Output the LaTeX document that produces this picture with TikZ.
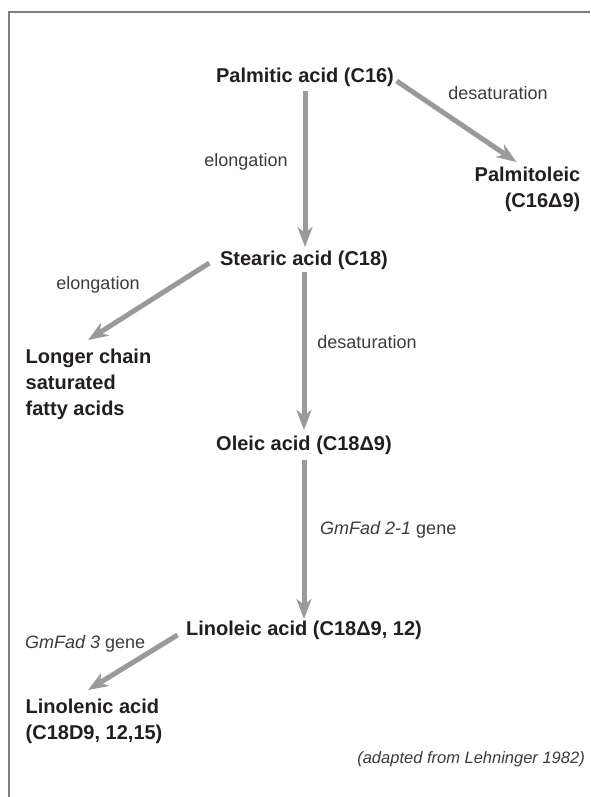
\documentclass[tikz,border=0pt]{standalone}
\usepackage{fontspec}
\setmainfont{Liberation Sans}
\usetikzlibrary{arrows.meta,calc}
\definecolor{arrowgray}{HTML}{9A9A9A}
\definecolor{framegray}{HTML}{7F7F7F}
\definecolor{txt}{HTML}{231F20}
\definecolor{lbl}{HTML}{3C3C3C}
\begin{document}
\begin{tikzpicture}[x=1pt,y=-1pt,
  acid/.style={font=\bfseries\fontsize{20}{26}\selectfont, text=txt, inner sep=1.5pt},
  lab/.style={font=\fontsize{18}{22}\selectfont, text=lbl, inner sep=0pt},
  conv/.style={draw=arrowgray, line width=5pt, -{Stealth[length=20pt,width=15pt,inset=6pt]}}]
\useasboundingbox (0,0) rectangle (590,797);
\fill[white] (0,0) rectangle (590,797);
\draw[framegray, line width=2pt] (590,12) -| (9,797);

\node[acid] (palm) at (305,77) {Palmitic acid (C16)};
\node[acid, align=right, anchor=north east] (ptol) at (582,165) {Palmitoleic\\(C16Δ9)};
\node[acid] (stear) at (304,260) {Stearic acid (C18)};
\node[acid, align=left, anchor=north west] (longer) at (24,347) {Longer chain\\saturated\\fatty acids};
\node[acid] (oleic) at (304,445) {Oleic acid (C18Δ9)};
\node[acid] (linol) at (304,630) {Linoleic acid (C18Δ9, 12)};
\node[acid, align=left, anchor=north west] (linolen) at (24,697) {Linolenic acid\\(C18D9, 12,15)};

\node[lab] (l1) at (246,162) {elongation};
\node[lab] (l2) at (498,93) {desaturation};
\node[lab] (l3) at (98,285) {elongation};
\node[lab] (l4) at (367,342) {desaturation};
\node[lab, anchor=west] (l5) at (320,530) {\textit{GmFad 2-1} gene};
\node[lab, anchor=west] (l6) at (25,644) {\textit{GmFad 3} gene};
\node[lab, font=\itshape\fontsize{16.5}{20}\selectfont, anchor=east] (src) at (585,759) {(adapted from Lehninger 1982)};

\draw[conv, shorten <=3pt, shorten >=2pt] (palm.south) -- (palm.south |- stear.north);
\draw[conv] ($(palm.east)+(1,4)$) -- ($(ptol.north west)+(43.5,-3)$);
\draw[conv, shorten <=1pt, shorten >=4pt] (stear.south) -- (stear.south |- oleic.north);
\draw[conv] ($(stear.west)+(-9,3)$) -- ($(longer.north west)+(64,-7)$);
\draw[conv, shorten <=4pt] (oleic.south) -- (oleic.south |- linol.north);
\draw[conv] ($(linol.west)+(-7,5)$) -- ($(linolen.north west)+(64,-7)$);
\end{tikzpicture}
\end{document}
